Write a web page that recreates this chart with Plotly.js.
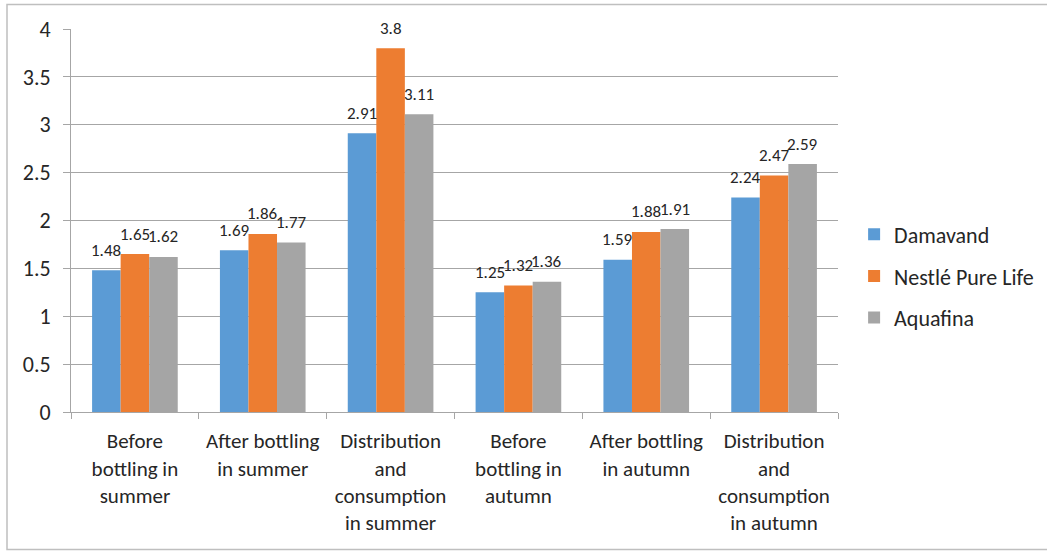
<!DOCTYPE html>
<html>
<head>
<meta charset="utf-8">
<script src="https://cdn.plot.ly/plotly-3.0.1.min.js"></script>
<style>html,body{margin:0;padding:0;background:#fff;}#chart{width:1047px;height:551px;}</style>
</head>
<body>
<div id="chart"></div>
<script>
var categories = [
  "Before<br>bottling in<br>summer",
  "After bottling<br>in summer",
  "Distribution<br>and<br>consumption<br>in summer",
  "Before<br>bottling in<br>autumn",
  "After bottling<br>in autumn",
  "Distribution<br>and<br>consumption<br>in autumn"
];
var seriesNames = ["Damavand", "Nestlé Pure Life", "Aquafina"];
var damavand = [1.48, 1.69, 2.91, 1.25, 1.59, 2.24];
var nestle   = [1.65, 1.86, 3.8, 1.32, 1.88, 2.47];
var aquafina = [1.62, 1.77, 3.11, 1.36, 1.91, 2.59];
var yTicks = [0, 0.5, 1, 1.5, 2, 2.5, 3, 3.5, 4];
var yTickText = ["0", "0.5", "1", "1.5", "2", "2.5", "3", "3.5", "4"];

var colors = ["#5B9BD5", "#ED7D31", "#A5A5A5"];
var seriesValues = [damavand, nestle, aquafina];
var FONT = "Carlito, Calibri, Lato, sans-serif";

var W = 1047, H = 551;
var margin = {l: 71, r: 209, t: 29, b: 139, autoexpand: false};
var plotW = W - margin.l - margin.r;
var plotH = H - margin.t - margin.b;
var bargap = 0.33;
var barPx = plotW / categories.length * (1 - bargap) / seriesValues.length;

var traces = seriesValues.map(function (vals, i) {
  return {
    type: "bar",
    name: seriesNames[i],
    x: categories,
    y: vals,
    marker: {color: colors[i]},
    legendgroup: "g" + i,
    hoverinfo: "y"
  };
});

var annotations = [];
seriesValues.forEach(function (vals, i) {
  vals.forEach(function (v, j) {
    annotations.push({
      x: categories[j], y: v, xref: "x", yref: "y",
      text: String(v), showarrow: false,
      xshift: (i - 1) * barPx, yshift: 20, yanchor: "middle",
      font: {family: FONT, size: 17, color: "#262626"}
    });
  });
});

function px2paperX(p) { return (p - margin.l) / plotW; }
function px2paperY(p) { return (H - margin.b - p) / plotH; }

var layout = {
  width: W, height: H,
  margin: margin,
  paper_bgcolor: "#fff",
  plot_bgcolor: "#fff",
  barmode: "group",
  bargap: bargap,
  bargroupgap: 0,
  font: {family: FONT, color: "#262626"},
  showlegend: true,
  legend: {
    x: 1.021, xanchor: "left", y: 0.355, yanchor: "middle",
    font: {family: FONT, size: 22, color: "#262626"},
    tracegroupgap: 10,
    traceorder: "grouped",
    bgcolor: "rgba(0,0,0,0)"
  },
  xaxis: {
    type: "category",
    showgrid: false,
    showline: true, linecolor: "#a6a6a6", linewidth: 1,
    ticks: "outside", tickson: "boundaries", ticklen: 6, tickcolor: "#a6a6a6",
    tickfont: {family: FONT, size: 21, color: "#262626"},
    ticklabelstandoff: 10,
    automargin: false,
    fixedrange: true
  },
  yaxis: {
    range: [0, 4],
    tickvals: yTicks, ticktext: yTickText,
    showgrid: true, gridcolor: "#a6a6a6", gridwidth: 1,
    showline: true, linecolor: "#a6a6a6", linewidth: 1,
    ticks: "outside", ticklen: 7, tickcolor: "#a6a6a6",
    tickfont: {family: FONT, size: 22, color: "#262626"},
    ticklabelstandoff: 8,
    zeroline: false,
    automargin: false,
    fixedrange: true
  },
  annotations: annotations,
  shapes: [{
    type: "rect", xref: "paper", yref: "paper",
    x0: px2paperX(7), x1: px2paperX(1060),
    y0: px2paperY(549.5), y1: px2paperY(4.5),
    line: {color: "#bfbfbf", width: 1.5},
    fillcolor: "rgba(0,0,0,0)"
  }]
};

Plotly.newPlot("chart", traces, layout, {displayModeBar: false, staticPlot: true});
</script>
</body>
</html>
